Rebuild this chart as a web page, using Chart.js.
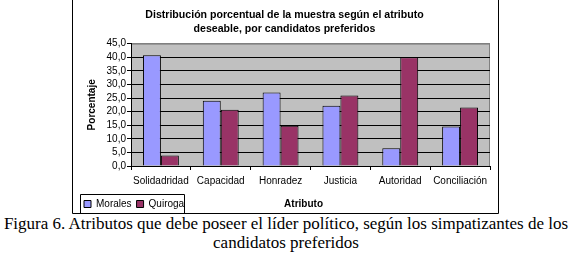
<!DOCTYPE html>
<html>
<head>
<meta charset="utf-8">
<script src="https://cdn.jsdelivr.net/npm/chart.js@4"></script>
<style>
  body { margin: 0; background: #fff; }
  #wrap { position: relative; width: 572px; height: 259px; overflow: hidden; }
  #caption {
    position: absolute; left: 0; top: 214px; width: 572px;
    font-family: "Liberation Serif", "Times New Roman", serif;
    font-size: 17px; line-height: 19px; text-align: center; color: #000;
    white-space: nowrap;
  }
</style>
</head>
<body>
<div id="wrap">
  <canvas id="attrChart" width="572" height="214"></canvas>
  <div id="caption">Figura 6. Atributos que debe poseer el líder político, según los simpatizantes de los<br>candidatos preferidos</div>
</div>
<script>
// values
const categories = ['Solidadridad', 'Capacidad', 'Honradez', 'Justicia', 'Autoridad', 'Conciliación'];
const morales = [40.7, 24.0, 27.0, 22.2, 6.5, 14.5];
const quiroga = [3.9, 20.7, 14.8, 25.9, 40.0, 21.5];
const yTickLabels = ['0,0', '5,0', '10,0', '15,0', '20,0', '25,0', '30,0', '35,0', '40,0', '45,0'];

Chart.defaults.font.family = '"Liberation Sans", Arial, sans-serif';
Chart.defaults.font.size = 10;
Chart.defaults.color = '#000';

// grey plot area, outer frame and legend frame, like the excel original
const excelFrame = {
  id: 'excelFrame',
  beforeDraw(chart) {
    const {ctx, chartArea: a} = chart;
    ctx.save();
    ctx.fillStyle = '#c0c0c0';
    ctx.fillRect(a.left, a.top, a.right - a.left, a.bottom - a.top);
    ctx.strokeStyle = '#808080';
    ctx.lineWidth = 1;
    ctx.strokeRect(a.left + 0.5, a.top + 0.5, a.right - a.left - 1, a.bottom - a.top);
    ctx.restore();
  },
  afterDraw(chart) {
    const ctx = chart.ctx;
    ctx.save();
    ctx.strokeStyle = '#000';
    ctx.lineWidth = 1;
    ctx.beginPath();
    ctx.moveTo(72.5, 0);
    ctx.lineTo(72.5, 213.5);
    ctx.lineTo(498.5, 213.5);
    ctx.lineTo(498.5, 0);
    ctx.stroke();
    const boxes = chart.legend.legendHitBoxes;
    if (boxes && boxes.length) {
      const first = boxes[0], last = boxes[boxes.length - 1];
      const x0 = Math.round(first.left) - 3.5;
      const x1 = Math.round(last.left + last.width) + 0.5;
      ctx.beginPath();
      ctx.moveTo(x0, 213.5);
      ctx.lineTo(x0, 194.5);
      ctx.lineTo(x1, 194.5);
      ctx.lineTo(x1, 213.5);
      ctx.stroke();
    }
    ctx.restore();
  }
};

const data = {
  labels: categories,
  datasets: [{
    label: 'Morales',
    data: morales,
    backgroundColor: '#9999ff',
    borderColor: '#000',
    borderWidth: 1
  },
  {
    label: 'Quiroga',
    data: quiroga,
    backgroundColor: '#993366',
    borderColor: '#000',
    borderWidth: 1
  }]
};

const attrConfig = {
  type: 'bar',
  data: data,
  plugins: [excelFrame],
  options: {
    responsive: false,
    animation: false,
    layout: { padding: { left: 79, right: 82, top: 0, bottom: 0 } },
    datasets: { bar: { categoryPercentage: 0.6, barPercentage: 1.0 } },
    plugins: {
      title: {
        display: true,
        text: ['Distribución porcentual de la muestra según el atributo', 'deseable, por candidatos preferidos'],
        font: { size: 10.6, weight: 'bold', lineHeight: 1.35 },
        padding: { top: 8, bottom: 7 },
        color: '#000'
      },
      legend: {
        position: 'bottom',
        align: 'start',
        maxHeight: 20,
        labels: { boxWidth: 7, boxHeight: 7, padding: 5, font: { size: 10 }, color: '#000' }
      },
      tooltip: { enabled: false }
    },
    scales: {
      x: {
        afterFit: s => { s.height = 28; },
        grid: { display: true, drawOnChartArea: false, drawTicks: true, tickLength: 4, color: '#000', offset: true },
        border: { color: '#000' },
        ticks: { padding: 5, maxRotation: 0, autoSkip: false, font: { size: 10 } },
        title: {
          display: true,
          text: 'Atributo     ',
          font: { size: 10, weight: 'bold' },
          padding: { top: 0, bottom: -16 }
        }
      },
      y: {
        min: 0,
        max: 45,
        afterFit: s => { s.width = 52; },
        grid: { color: ctx => (ctx.tick && ctx.tick.value === 45 ? '#808080' : '#000'), tickLength: 4, tickColor: '#000' },
        border: { color: '#000' },
        ticks: {
          stepSize: 5,
          autoSkip: false,
          padding: 1,
          font: { size: 10 },
          callback: (value, index) => yTickLabels[index]
        },
        title: {
          display: true,
          text: 'Porcentaje',
          font: { size: 10, weight: 'bold' },
          padding: { top: 7, bottom: 0 }
        }
      }
    }
  }
};

const attrChart = new Chart(
  document.getElementById('attrChart'),
  attrConfig
);
</script>
</body>
</html>
